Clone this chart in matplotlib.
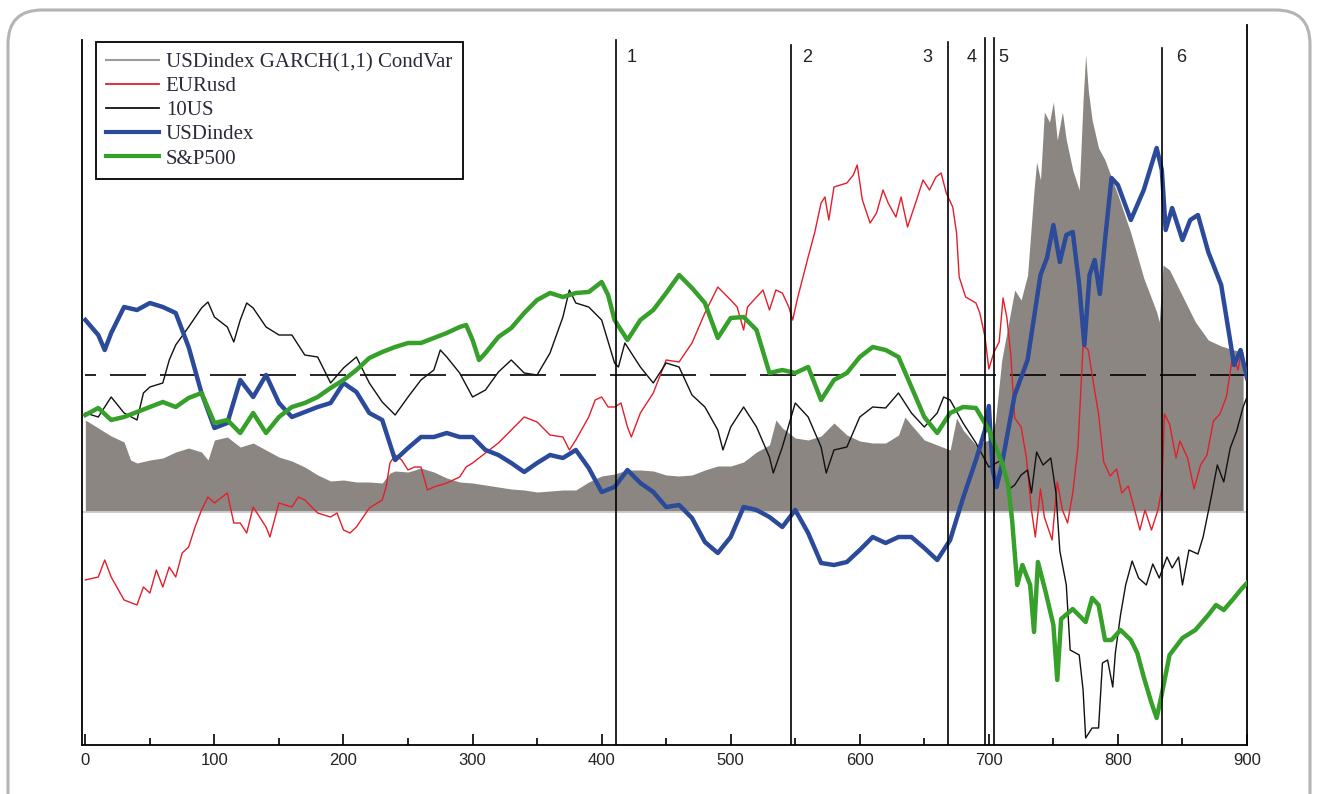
import matplotlib
matplotlib.use('Agg')
import matplotlib.pyplot as plt
from matplotlib.patches import FancyBboxPatch
from matplotlib.lines import Line2D
from matplotlib.ticker import MultipleLocator

# USDindex GARCH(1,1) conditional variance (filled area)
t_var = [0, 10, 20, 30, 35, 40, 50, 60, 70, 80,
         90, 95, 100, 110, 120, 130, 140, 150, 160, 170,
         180, 190, 200, 210, 220, 230, 236, 240, 250, 260,
         270, 280, 290, 300, 310, 320, 330, 340, 350, 360,
         370, 380, 390, 400, 410, 420, 430, 440, 450, 460,
         470, 480, 490, 500, 510, 520, 530, 535, 540, 550,
         560, 570, 580, 590, 600, 610, 620, 630, 635, 640,
         650, 660, 670, 675, 680, 690, 700, 705, 710, 720,
         725, 730, 735, 737, 740, 743, 747, 750, 753, 757,
         760, 765, 770, 773, 775, 777, 780, 785, 790, 800,
         810, 820, 830, 832, 835, 840, 850, 860, 870, 880,
         890, 897]
usd_var = [0.92, 0.84, 0.76, 0.70, 0.52, 0.49, 0.52, 0.54, 0.60, 0.64,
           0.60, 0.52, 0.72, 0.75, 0.65, 0.69, 0.62, 0.55, 0.51, 0.45,
           0.37, 0.31, 0.32, 0.30, 0.30, 0.29, 0.39, 0.41, 0.40, 0.44,
           0.40, 0.34, 0.30, 0.29, 0.27, 0.25, 0.23, 0.22, 0.20, 0.21,
           0.22, 0.22, 0.30, 0.36, 0.38, 0.42, 0.42, 0.41, 0.37, 0.36,
           0.37, 0.42, 0.46, 0.46, 0.50, 0.60, 0.67, 0.92, 0.84, 0.74,
           0.72, 0.76, 0.89, 0.77, 0.71, 0.69, 0.69, 0.77, 0.95, 0.87,
           0.72, 0.67, 0.62, 0.94, 0.82, 0.67, 0.72, 0.90, 1.52, 2.22,
           2.12, 2.37, 3.22, 3.50, 3.32, 4.00, 3.90, 4.10, 3.72, 4.00,
           3.72, 3.42, 3.22, 4.12, 4.57, 4.22, 3.92, 3.64, 3.52, 3.17,
           2.79, 2.34, 2.00, 1.90, 2.47, 2.42, 2.16, 1.90, 1.72, 1.66,
           1.62, 1.60]

# EURusd
t_eur = [0, 10, 15, 20, 30, 40, 45, 50, 55, 60,
         65, 70, 75, 80, 85, 90, 95, 100, 110, 115,
         120, 125, 130, 140, 143, 150, 160, 165, 170, 180,
         190, 195, 200, 205, 210, 220, 230, 233, 236, 240,
         245, 250, 255, 260, 265, 270, 280, 290, 295, 300,
         310, 320, 330, 340, 350, 360, 370, 375, 380, 390,
         395, 400, 405, 410, 415, 420, 423, 430, 440, 450,
         460, 470, 480, 490, 500, 505, 510, 513, 520, 525,
         530, 535, 540, 545, 548, 552, 560, 565, 570, 573,
         576, 580, 590, 595, 598, 602, 608, 613, 618, 622,
         628, 632, 637, 644, 649, 654, 659, 663, 667, 672,
         675, 677, 682, 690, 693, 697, 700, 704, 708, 711,
         714, 717, 720, 725, 729, 733, 736, 740, 743, 749,
         753, 757, 761, 765, 769, 773, 777, 781, 785, 789,
         794, 799, 803, 808, 813, 817, 821, 826, 831, 834,
         836, 840, 845, 848, 854, 859, 864, 869, 874, 879,
         884, 889, 893, 896, 899]
eur = [-0.68, -0.65, -0.48, -0.65, -0.88, -0.93, -0.75, -0.81, -0.58, -0.75,
       -0.55, -0.65, -0.41, -0.35, -0.15, 0.02, 0.15, 0.09, 0.19, -0.11,
       -0.11, -0.21, 0.05, -0.15, -0.25, 0.09, 0.05, 0.15, 0.12, -0.01,
       -0.05, -0.01, -0.18, -0.21, -0.15, 0.04, 0.12, 0.25, 0.49, 0.57,
       0.52, 0.42, 0.45, 0.45, 0.22, 0.25, 0.29, 0.35, 0.45, 0.49,
       0.59, 0.69, 0.82, 0.95, 0.90, 0.77, 0.75, 0.62, 0.72, 0.95,
       1.12, 1.15, 1.05, 1.05, 1.09, 0.85, 0.75, 0.99, 1.19, 1.52,
       1.50, 1.69, 1.99, 2.25, 2.12, 2.05, 1.82, 2.05, 2.15, 2.22,
       2.02, 2.22, 2.19, 2.05, 1.92, 2.15, 2.55, 2.79, 3.09, 3.15,
       2.92, 3.25, 3.29, 3.37, 3.47, 3.12, 2.89, 2.99, 3.22, 3.09,
       2.95, 3.15, 2.85, 3.12, 3.32, 3.22, 3.35, 3.39, 3.19, 3.05,
       2.79, 2.35, 2.15, 2.09, 1.99, 1.75, 1.43, 1.60, 1.70, 2.14,
       1.94, 1.57, 0.94, 0.85, 0.55, 0.02, -0.25, 0.23, -0.05, -0.28,
       0.30, 0.02, -0.11, 0.19, 0.64, 1.67, 1.62, 1.29, 0.98, 0.50,
       0.36, 0.43, 0.19, 0.26, 0.02, -0.18, 0.02, -0.18, 0.02, 0.23,
       0.98, 0.88, 0.54, 0.71, 0.54, 0.23, 0.47, 0.57, 0.91, 0.98,
       1.15, 1.57, 1.42, 1.62, 1.34]

# 10US
t_10us = [0, 10, 20, 30, 40, 45, 50, 60, 65, 70,
          80, 90, 95, 100, 110, 115, 120, 125, 130, 140,
          150, 160, 170, 180, 190, 200, 210, 220, 230, 240,
          250, 260, 270, 275, 280, 290, 300, 310, 320, 330,
          340, 350, 360, 370, 375, 380, 390, 400, 410, 413,
          418, 430, 440, 450, 460, 470, 480, 490, 494, 500,
          510, 520, 530, 533, 540, 550, 560, 570, 574, 580,
          590, 600, 610, 620, 630, 640, 650, 660, 665, 670,
          680, 690, 700, 710, 715, 720, 725, 730, 733, 737,
          742, 748, 752, 755, 760, 763, 770, 773, 775, 780,
          785, 788, 792, 796, 798, 802, 806, 811, 816, 822,
          827, 832, 838, 842, 847, 850, 855, 862, 866, 872,
          877, 882, 887, 892, 897, 900]
us10 = [0.99, 0.95, 1.15, 0.99, 0.92, 1.19, 1.25, 1.29, 1.52, 1.67,
        1.85, 2.04, 2.10, 1.95, 1.85, 1.70, 1.92, 2.09, 2.04, 1.85,
        1.77, 1.77, 1.57, 1.55, 1.29, 1.44, 1.55, 1.29, 1.10, 0.97,
        1.15, 1.32, 1.42, 1.62, 1.55, 1.39, 1.15, 1.22, 1.40, 1.52,
        1.39, 1.37, 1.59, 1.95, 2.22, 2.09, 2.05, 1.92, 1.49, 1.45,
        1.69, 1.45, 1.29, 1.49, 1.45, 1.17, 1.05, 0.82, 0.62, 0.85,
        1.05, 0.85, 0.55, 0.39, 0.65, 1.09, 0.95, 0.65, 0.39, 0.62,
        0.65, 0.95, 1.05, 1.04, 1.19, 0.99, 0.85, 0.99, 1.15, 1.12,
        0.89, 0.69, 0.45, 0.52, 0.22, 0.27, 0.37, 0.42, 0.19, 0.60,
        0.47, 0.54, 0.19, -0.39, -0.73, -1.38, -1.43, -1.78, -2.26, -2.16,
        -2.16, -1.51, -1.48, -1.75, -1.41, -1.03, -0.73, -0.49, -0.66, -0.73,
        -0.52, -0.66, -0.45, -0.56, -0.45, -0.73, -0.38, -0.42, -0.25, 0.13,
        0.47, 0.30, 0.64, 0.81, 1.05, 1.15]

# USDindex
t_usd = [0, 10, 15, 20, 30, 40, 50, 60, 70, 80,
         90, 100, 110, 120, 130, 140, 150, 160, 170, 180,
         190, 200, 210, 220, 230, 240, 250, 260, 270, 280,
         290, 300, 310, 320, 330, 340, 350, 360, 370, 380,
         390, 400, 410, 420, 430, 440, 450, 460, 470, 480,
         490, 500, 510, 520, 530, 540, 550, 560, 570, 580,
         590, 600, 610, 620, 630, 640, 650, 660, 670, 680,
         690, 697, 700, 703, 706, 710, 720, 730, 740, 745,
         750, 755, 760, 765, 770, 774, 778, 782, 786, 790,
         795, 800, 810, 820, 830, 834, 837, 842, 850, 856,
         862, 870, 880, 890, 895, 900]
usd = [1.92, 1.77, 1.62, 1.79, 2.05, 2.02, 2.09, 2.05, 1.99, 1.65,
       1.19, 0.84, 0.89, 1.32, 1.15, 1.37, 1.09, 0.95, 1.00, 1.05,
       1.09, 1.29, 1.20, 0.99, 0.92, 0.52, 0.64, 0.75, 0.75, 0.79,
       0.75, 0.75, 0.62, 0.57, 0.49, 0.40, 0.49, 0.57, 0.54, 0.62,
       0.44, 0.20, 0.25, 0.42, 0.29, 0.20, 0.05, 0.07, -0.06, -0.30,
       -0.41, -0.25, 0.05, 0.02, -0.05, -0.15, 0.02, -0.21, -0.51, -0.53,
       -0.50, -0.38, -0.25, -0.31, -0.25, -0.25, -0.36, -0.48, -0.28, 0.14,
       0.52, 0.82, 1.06, 0.42, 0.25, 0.47, 1.17, 1.52, 2.37, 2.54,
       2.87, 2.50, 2.77, 2.80, 2.27, 1.67, 2.37, 2.52, 2.18, 2.72,
       3.34, 3.27, 2.92, 3.22, 3.64, 3.42, 2.82, 3.04, 2.72, 2.92,
       2.97, 2.60, 2.27, 1.47, 1.62, 1.34]

# S&P500
t_spx = [0, 10, 20, 30, 40, 50, 60, 70, 80, 90,
         100, 110, 120, 130, 140, 150, 160, 170, 180, 190,
         200, 210, 220, 230, 240, 250, 260, 270, 280, 290,
         295, 300, 305, 310, 320, 330, 340, 350, 360, 370,
         380, 390, 400, 405, 410, 420, 430, 440, 450, 460,
         470, 480, 490, 500, 510, 520, 530, 540, 550, 560,
         570, 580, 590, 600, 610, 620, 630, 640, 650, 660,
         670, 680, 690, 700, 710, 715, 718, 722, 726, 732,
         735, 738, 744, 750, 753, 756, 765, 775, 780, 785,
         790, 795, 802, 810, 815, 820, 826, 830, 834, 840,
         850, 860, 870, 876, 882, 890, 895, 900]
spx = [0.97, 1.04, 0.92, 0.95, 1.00, 1.05, 1.10, 1.05, 1.14, 1.19,
       0.89, 0.92, 0.79, 0.99, 0.79, 0.95, 1.05, 1.09, 1.15, 1.24,
       1.32, 1.42, 1.54, 1.60, 1.65, 1.69, 1.69, 1.74, 1.79, 1.85,
       1.87, 1.72, 1.52, 1.59, 1.75, 1.84, 1.99, 2.12, 2.19, 2.15,
       2.19, 2.20, 2.30, 2.17, 1.92, 1.72, 1.92, 2.02, 2.19, 2.37,
       2.24, 2.09, 1.74, 1.94, 1.95, 1.82, 1.39, 1.42, 1.39, 1.45,
       1.12, 1.32, 1.39, 1.55, 1.65, 1.62, 1.55, 1.25, 0.95, 0.79,
       0.99, 1.05, 1.04, 0.82, 0.50, 0.27, -0.08, -0.73, -0.53, -0.73,
       -1.20, -0.50, -0.80, -1.13, -1.68, -1.07, -0.97, -1.10, -0.86, -0.93,
       -1.28, -1.28, -1.18, -1.28, -1.41, -1.65, -1.91, -2.06, -1.82, -1.43,
       -1.26, -1.18, -1.03, -0.93, -0.98, -0.86, -0.78, -0.71]

# numbered event dates and the reference level
events = [411, 547, 668, 697, 704, 834]
event_labels = ['1', '2', '3', '4', '5', '6']
ref_level = 1.37

series_names = ['USDindex GARCH(1,1) CondVar', 'EURusd', '10US', 'USDindex', 'S&P500']

W, H = 1317, 794
fig = plt.figure(figsize=(W / 100, H / 100), dpi=100)

# rounded frame around the whole panel
bg = fig.add_axes([0, 0, 1, 1])
bg.set_xlim(0, W)
bg.set_ylim(H, 0)
bg.axis('off')
bg.add_patch(FancyBboxPatch((8, 10), 1302, 830,
                            boxstyle='round,pad=0,rounding_size=34',
                            fc='white', ec='#b4b4b4', lw=2.2))

ax = fig.add_axes([82 / W, 49 / H, 1165 / W, 720 / H])
ax.set_facecolor('none')
ymin, ymax = -2.33, 4.87
ax.set_xlim(-2.6, 900)
ax.set_ylim(ymin, ymax)

ax.fill_between(t_var, 0, usd_var, color='#8b8681', lw=0, zorder=1)
ax.axhline(0, color='#cfcfcf', lw=1.3, zorder=1.5)
ax.plot([0, 900], [ref_level, ref_level], color='black', lw=1.2,
        linestyle=(15, (21.6, 8.4)), zorder=2)

c_eur, c_10us, c_usd, c_spx = '#e41e2b', '#111111', '#2c4a9a', '#36a02a'
ax.plot(t_eur, eur, color=c_eur, lw=1.0, zorder=3)
ax.plot(t_10us, us10, color=c_10us, lw=1.0, zorder=3)
ax.plot(t_usd, usd, color=c_usd, lw=3.2, zorder=3)
ax.plot(t_spx, spx, color=c_spx, lw=3.2, zorder=3)

# event markers
tops = [4.72, 4.67, 4.70, 4.74, 4.74, 4.64]
offsets = [12, 12, -16, -10, 7, 15]
for x, lab, top, dx in zip(events, event_labels, tops, offsets):
    ax.plot([x, x], [ymin, top], color='black', lw=1.2, zorder=4)
    ax.text(x + dx, 4.55, lab, ha='center', va='center', fontsize=13,
            family='Liberation Sans', color='#222222')

# axes styling
ax.spines['top'].set_visible(False)
for s in ['left', 'bottom', 'right']:
    ax.spines[s].set_linewidth(1.3)
ax.spines['left'].set_bounds(ymin, 4.72)
ax.set_yticks([])
ax.xaxis.set_major_locator(MultipleLocator(100))
ax.xaxis.set_minor_locator(MultipleLocator(50))
ax.tick_params(axis='x', which='major', direction='in', length=8, width=1.2,
               pad=6, labelsize=12, labelcolor='#222222')
ax.tick_params(axis='x', which='minor', direction='in', length=5, width=1.2)
for lab in ax.get_xticklabels():
    lab.set_family('Liberation Sans')

handles = [Line2D([], [], color='#9c9c9c', lw=1.5),
           Line2D([], [], color=c_eur, lw=1.3),
           Line2D([], [], color=c_10us, lw=1.3),
           Line2D([], [], color=c_usd, lw=3.0),
           Line2D([], [], color=c_spx, lw=3.0)]
leg = ax.legend(handles, series_names, loc='upper left',
                bbox_to_anchor=(14 / 1165, 703 / 720), borderaxespad=0,
                fancybox=False, edgecolor='black', framealpha=1,
                prop={'family': 'Liberation Serif', 'size': 15},
                handlelength=2.5, handletextpad=0.35, labelspacing=0.22,
                borderpad=0.5)
leg.get_frame().set_linewidth(1.3)
for txt in leg.get_texts():
    txt.set_color('#2a2a3a')

fig.savefig('out.png', dpi=100)
